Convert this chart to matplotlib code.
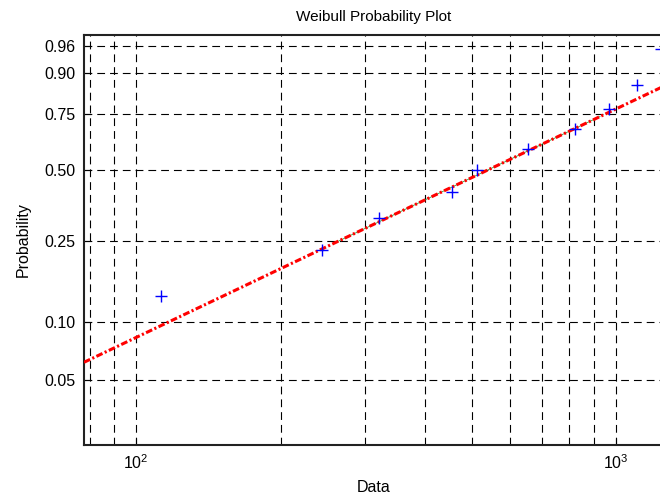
import numpy as np
import matplotlib
matplotlib.use('Agg')
import matplotlib.pyplot as plt
from matplotlib.ticker import FixedLocator, FixedFormatter, LogLocator, NullFormatter

plt.rcParams['font.family'] = ['Liberation Sans', 'DejaVu Sans']

# data
data_x = [112.8, 244, 321, 456, 513, 655, 822, 967, 1106, 1240]
data_p = [0.136, 0.227, 0.318, 0.409, 0.500, 0.591, 0.682, 0.773, 0.864, 0.955]

# weibull fit (scale, shape)
wbl_a = 728.0
wbl_b = 1.23
fit_x = [77.9, 1253]
mid_x = [262, 926]

prob_ticks = [0.05, 0.10, 0.25, 0.50, 0.75, 0.90, 0.96]
prob_labels = ['0.05', '0.10', '0.25', '0.50', '0.75', '0.90', '0.96']


def fwd(p):
    p = np.clip(np.asarray(p, dtype=float), 1e-9, 1 - 1e-9)
    return np.log(-np.log(1 - p))


def inv(z):
    return 1 - np.exp(-np.exp(np.asarray(z, dtype=float)))


def wbl_cdf(x):
    x = np.asarray(x, dtype=float)
    return 1 - np.exp(-(x / wbl_a) ** wbl_b)


fig = plt.figure(figsize=(6.6, 4.96), dpi=100)
ax = fig.add_axes([84 / 660, 51 / 496, 579 / 660, 410.5 / 496])
ax.set_xscale('log')
ax.set_yscale('function', functions=(fwd, inv))

ax.plot(mid_x, wbl_cdf(mid_x), color='#3a9a3a', lw=0.6, zorder=3)
ax.plot(fit_x, wbl_cdf(fit_x), color='red', lw=2.2, ls=(0, (2.2, 0.8, 0.7, 0.8)), zorder=4)
ax.plot(data_x, data_p, '+', color='blue', ms=9, mew=1, zorder=5)

ax.set_xlim(77.9, 1253)
ax.set_ylim(0.0227, 0.9757)

ax.yaxis.set_major_locator(FixedLocator(prob_ticks))
ax.yaxis.set_major_formatter(FixedFormatter(prob_labels))
ax.yaxis.set_minor_locator(FixedLocator([]))
ax.xaxis.set_major_locator(LogLocator(base=10))
ax.xaxis.set_minor_locator(LogLocator(base=10, subs=np.arange(2, 10)))
ax.xaxis.set_minor_formatter(NullFormatter())

ax.grid(True, which='both', color='black', ls=(0, (7, 4.5)), lw=0.8)
ax.tick_params(which='both', direction='in', labelsize=11.5, top=False, right=False)
ax.tick_params(axis='y', pad=6)
ax.tick_params(axis='x', pad=6)
ax.tick_params(which='major', length=5)
ax.tick_params(which='minor', length=3)
for s in ax.spines.values():
    s.set_linewidth(1.5)
    s.set_color('#222222')

ax.set_title('Weibull Probability Plot', fontsize=11, pad=10)
ax.set_xlabel('Data', fontsize=11.5, labelpad=6)
ax.set_ylabel('Probability', fontsize=11.5, labelpad=10)

fig.savefig('out.png', dpi=100)
